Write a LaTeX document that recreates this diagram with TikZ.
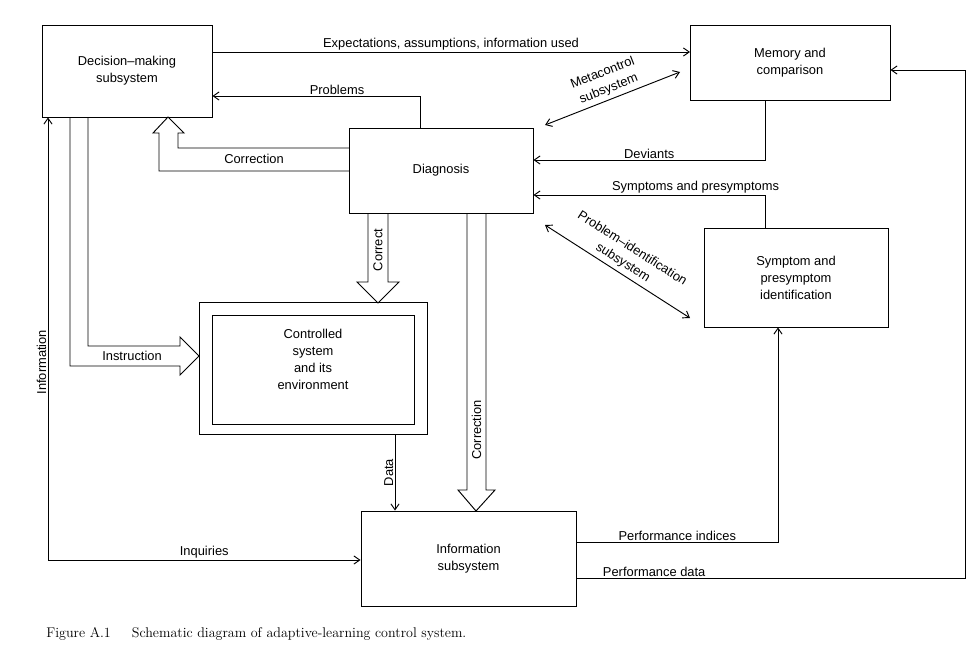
\documentclass[tikz,border=0pt]{standalone}
\usepackage{fontspec}
\setsansfont{Liberation Sans}
\usetikzlibrary{arrows.meta}
\tikzset{
  box/.style={draw, thick, inner sep=0pt, align=center, font=\sffamily\fontsize{11}{14.5}\selectfont},
  lab/.style={font=\sffamily\fontsize{11}{14.5}\selectfont, align=center, inner sep=1pt},
  >={Straight Barb[length=5pt,width=7pt]}
}
\begin{document}
\begin{tikzpicture}[x=0.03cm, y=-0.03cm, thick]
    \useasboundingbox (0,0) rectangle (980,672);

    \node[box, minimum width=170*0.03cm, minimum height=92*0.03cm] (dec) at (127,71) {Decision--making\\subsystem};
    \node[box, minimum width=200*0.03cm, minimum height=75*0.03cm] (mem) at (790,62.5) {Memory and\\comparison};
    \node[box, minimum width=184*0.03cm, minimum height=85*0.03cm] (diag) at (441,170.5) {Diagnosis};
    \node[box, minimum width=184*0.03cm, minimum height=99*0.03cm] (symp) at (796,277.5) {Symptom and\\presymptom\\identification};
    \node[box, minimum width=228*0.03cm, minimum height=132*0.03cm] (ctrl) at (313,368) {};
    \node[box, minimum width=202*0.03cm, minimum height=109*0.03cm] (ctrlin) at (313,369.5) {Controlled\\system\\and its\\environment\\[0.3em]};
    \node[box, minimum width=215*0.03cm, minimum height=95*0.03cm] (info) at (468.5,558.5) {Information\\subsystem};
    \coordinate (corner) at (48,560);

    % thin connectors
    \draw [->] (212,52) to node[lab, above] {Expectations, assumptions, information used} (690,52);
    \draw [->] (diag.north -| 420,0) |- node[lab, above, pos=0.7] {Problems} (dec.east |- 0,96);
    \draw [->] (mem.south -| 765,0) |- node[lab, above, pos=0.75] {Deviants} (diag.east |- 0,160);
    \draw [->] (symp.north -| 765,0) |- node[lab, above, pos=0.65] {Symptoms and presymptoms} (diag.east |- 0,195);
    \draw [->] (ctrl.south -| 395,0) to node[lab, rotate=90, anchor=south] {Data} (info.north -| 395,0);
    \draw [<->] (dec.south -| corner) -- node[lab, rotate=90, anchor=south, xshift=-20pt] {Information} (corner) -- node[lab, above] {Inquiries} (info.west |- corner);
    \draw [->] (info.east |- 0,542) -| node[lab, above, pos=0.25] {Performance indices} (symp.south -| 778,0);
    \draw [->] (info.east |- 0,578) -| node[lab, above, pos=0.1] {Performance data} (965,70) -- (mem.east |- 0,70);

    % two-way subsystems
    \draw [<->] (545,125) to node[lab, sloped, above, yshift=2pt] {Metacontrol\\subsystem} (680,72);
    \draw [<->] (545,225) to node[lab, sloped, above, yshift=2pt] {Problem--identification\\subsystem} (690,318);

    % broad arrows
    \draw (349,171) -- (159,171) -- (159,133) -- (153,133) -- (168,117) -- (184,133) -- (178,133) -- (178,148) -- (349,148);
    \node[lab] at (254,159) {Correction};
    \draw (70,117) -- (70,366) -- (180,366) -- (180,375) -- (199,356) -- (180,337) -- (180,346) -- (88,346) -- (88,117);
    \node[lab] at (132,356) {Instruction};
    \draw (368,213) -- (368,282) -- (357,282) -- (378,303) -- (399,282) -- (388,282) -- (388,213);
    \node[lab, rotate=90] at (378,250) {Correct};
    \draw (467,213) -- (467,490) -- (458,490) -- (476,511) -- (495,490) -- (486,490) -- (486,213);
    \node[lab, rotate=90] at (476.5,430) {Correction};

    \node[anchor=west, font=\fontsize{12}{14}\selectfont] (cap) at (42,634) {Figure A.1\hspace{1.5em}Schematic diagram of adaptive-learning control system.};
\end{tikzpicture}
\end{document}
